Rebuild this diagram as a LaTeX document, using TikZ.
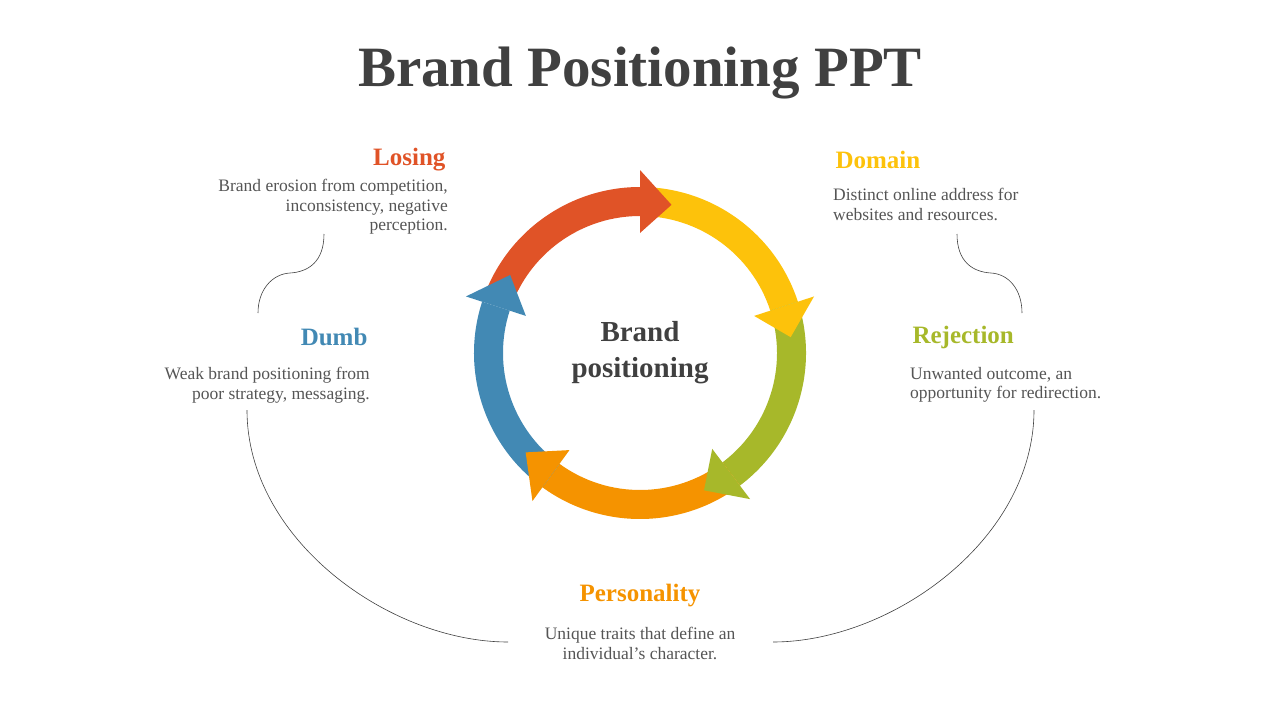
\documentclass[tikz,border=0pt]{standalone}
\usepackage{fontspec}
\setmainfont{Liberation Serif}
\definecolor{cred}{HTML}{E05327}
\definecolor{cyel}{HTML}{FDC20B}
\definecolor{cgrn}{HTML}{A7B82A}
\definecolor{corg}{HTML}{F59300}
\definecolor{cblu}{HTML}{4289B4}
\definecolor{ctxt}{HTML}{404040}
\definecolor{cbody}{HTML}{555555}
\tikzset{
  head/.style={font=\fontsize{25}{28}\selectfont\bfseries},
  body/.style={font=\fontsize{17.5}{19.5}\selectfont, text=cbody, inner sep=0pt},
  conn/.style={draw=black!75, line width=0.6pt},
}
\newcommand{\ringarrow}[3]{% color, tail, base
  \fill[#1] ([shift={(640,-353)}]#2:166) arc (#2:#3:166) -- ([shift={(640,-353)}]#3:137) arc (#3:#2:137) -- cycle;
}
\newcommand{\ringhead}[3]{% color, base, tip
  \fill[#1] ([shift={(640,-353)}]#2:120) -- ([shift={(640,-353)}]#2:183) -- ([shift={(640,-353)}]#3:151.5) -- cycle;
}
\begin{document}
\begin{tikzpicture}[x=1pt,y=1pt]
\useasboundingbox (0,0) rectangle (1280,-720);
\node[font=\fontsize{57}{64}\selectfont\bfseries, text=ctxt] (title) at (640,-73) {Brand Positioning PPT};
% ring
\ringarrow{cred}{158}{90}
\ringarrow{cyel}{90}{18}
\ringarrow{cgrn}{18}{-53}
\ringarrow{corg}{-53}{-126}
\ringarrow{cblu}{-126}{-198}
\ringhead{cred}{90}{78}
\ringhead{cyel}{18}{6}
\ringhead{cgrn}{-53}{-65}
\ringhead{corg}{-126}{-139}
\ringhead{cblu}{162}{149}
\node[font=\fontsize{29}{36}\selectfont\bfseries, text=ctxt, align=center] (center) at (640,-353) {Brand\\positioning};
% labels
\node[head, text=cred, anchor=east] (losing) at (449,-160) {Losing};
\node[body, anchor=north east, align=right] (losingt) at (448,-179) {Brand erosion from competition,\\inconsistency, negative\\perception.};
\node[head, text=cyel, anchor=west] (domain) at (832,-160) {Domain};
\node[body, anchor=north west, align=left] (domaint) at (833,-188) {Distinct online address for\\websites and resources.};
\node[head, text=cgrn, anchor=west] (rej) at (909,-337) {Rejection};
\node[body, anchor=north west, align=left] (rejt) at (910,-367) {Unwanted outcome, an\\opportunity for redirection.};
\node[head, text=cblu, anchor=east] (dumb) at (371,-337) {Dumb};
\node[body, anchor=north east, align=right] (dumbt) at (370,-367) {Weak brand positioning from\\poor strategy, messaging.};
\node[head, text=corg] (pers) at (640,-596) {Personality};
\node[body, anchor=north, align=center] (perst) at (640,-627) {Unique traits that define an\\individual's character.};
% connectors
\coordinate (a1) at (324,-234); \coordinate (am) at (290,-273); \coordinate (a2) at (258,-313);
\draw[conn] (a1) .. controls (324,-262) and (308,-272) .. (am) .. controls (272,-274) and (258,-290) .. (a2);
\coordinate (b1) at (957,-234); \coordinate (bm) at (991,-273); \coordinate (b2) at (1022,-313);
\draw[conn] (b1) .. controls (957,-262) and (973,-272) .. (bm) .. controls (1009,-274) and (1022,-290) .. (b2);
\coordinate (c1) at (247,-410); \coordinate (c2) at (508,-642);
\draw[conn] (c1) .. controls (247,-540) and (390,-642) .. (c2);
\coordinate (d1) at (1034,-410); \coordinate (d2) at (773,-642);
\draw[conn] (d1) .. controls (1034,-540) and (891,-642) .. (d2);
\end{tikzpicture}
\end{document}
